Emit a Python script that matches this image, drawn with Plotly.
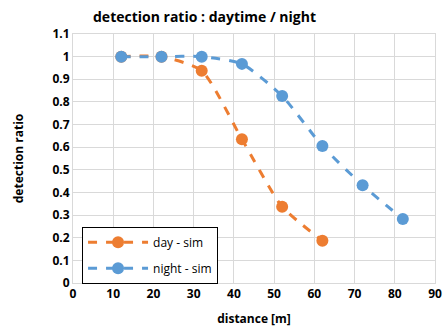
import plotly.graph_objects as go

day_x = [12, 22, 32, 42, 52, 62]
day_y = [1.0, 1.0, 0.938, 0.635, 0.337, 0.187]
night_x = [12, 22, 32, 42, 52, 62, 72, 82]
night_y = [1.0, 1.0, 1.0, 0.968, 0.826, 0.605, 0.432, 0.283]

ORANGE = "#ED7D31"
BLUE = "#5B9BD5"
FONT = "Open Sans"

fig = go.Figure()
fig.add_trace(go.Scatter(x=day_x, y=day_y, name="day - sim", mode="lines+markers",
                         line=dict(color=ORANGE, width=3, dash="dash", shape="spline", smoothing=0.6),
                         marker=dict(size=12, color=ORANGE), legendgroup="a"))
fig.add_trace(go.Scatter(x=night_x, y=night_y, name="night - sim", mode="lines+markers",
                         line=dict(color=BLUE, width=3, dash="dash", shape="spline", smoothing=0.6),
                         marker=dict(size=12, color=BLUE), legendgroup="b"))

fig.update_layout(
    width=443, height=328,
    margin=dict(l=73, r=8, t=34, b=45),
    paper_bgcolor="white", plot_bgcolor="white",
    font=dict(family=FONT, size=12, color="black"),
    title=dict(text="<b>detection ratio : daytime / night</b>", x=93/443, xanchor="left",
               y=1 - 17/328, yanchor="middle", font=dict(size=14, family=FONT)),
    xaxis=dict(range=[0, 90], dtick=10, showgrid=True, gridcolor="#d9d9d9", gridwidth=1,
               showline=True, linecolor="#d9d9d9", mirror=True, zeroline=False,
               tickfont=dict(size=12), ticks="", automargin=False,
               title=dict(text="<b>distance [m]</b>", font=dict(size=12), standoff=13),
               tickprefix="<b>", ticksuffix="</b>"),
    yaxis=dict(range=[0, 1.1], dtick=0.1, showgrid=True, gridcolor="#d9d9d9", gridwidth=1,
               showline=True, linecolor="#d9d9d9", mirror=True, zeroline=False,
               tickfont=dict(size=12), ticks="", automargin=False,
               title=dict(text="<b>detection ratio</b>", font=dict(size=12), standoff=26),
               tickprefix="<b>", ticksuffix="</b>"),
    legend=dict(x=0.025, y=0.226, xanchor="left", yanchor="top",
                bordercolor="black", borderwidth=1, bgcolor="white",
                font=dict(size=12), tracegroupgap=7, itemwidth=60),
)
fig.write_html("out.html")
